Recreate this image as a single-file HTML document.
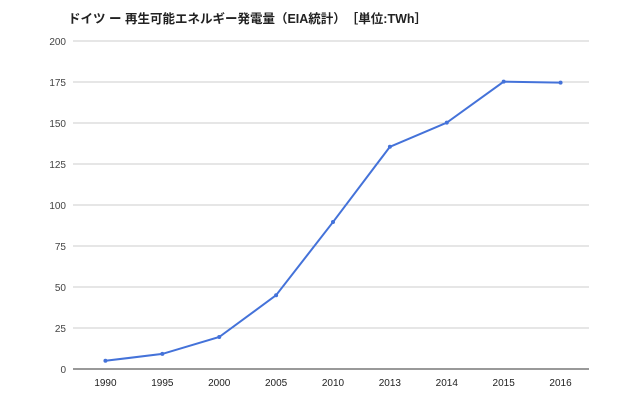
<!DOCTYPE html>
<html><head><meta charset="utf-8"><style>
body{margin:0;background:#fff;}
svg{display:block;font-family:"Liberation Sans","Noto Sans CJK JP",sans-serif;}
</style></head><body>
<svg id="chart" width="640" height="411">
<text x="68" y="23" font-size="12.5" font-weight="bold" fill="#222">ドイツ ー 再生可能エネルギー発電量（EIA統計）　［単位:TWh］</text>
<g id="grid"></g><g id="xl"></g><g id="series"></g>
</svg>
<script>
const categories=["1990","1995","2000","2005","2010","2013","2014","2015","2016"];
const values=[5,9.2,19.5,45,89.6,135.5,150.2,175.2,174.6];
const yTicks=[0,25,50,75,100,125,150,175,200];
const L=77,R=589,T=41,B=369,ymax=200;
const ns="http://www.w3.org/2000/svg";
const bw=(R-L)/categories.length;
const x=i=>L+bw*(i+0.5);
const y=v=>B-(B-T)*v/ymax;
function mk(t,a,p){const e=document.createElementNS(ns,t);for(const k in a)e.setAttribute(k,a[k]);p.appendChild(e);return e;}
const g=document.getElementById('grid');
yTicks.forEach(v=>{
 const ln=mk('line',{x1:73,x2:R,y1:y(v),y2:y(v),stroke:v===0?'#333':'#ccc','stroke-width':1},g);
 
 
 const t=mk('text',{x:66,y:y(v)+4,'font-size':10,'text-anchor':'end',fill:'#444'},g);
 t.textContent=v;
 
 
});
const xl=document.getElementById('xl');
categories.forEach((c,i)=>{
 const t=mk('text',{x:x(i),y:386,'font-size':10,'text-anchor':'middle',fill:'#222'},xl);
 t.textContent=c;
 
 
});
const s=document.getElementById('series');
const p=mk('polyline',{points:values.map((v,i)=>x(i)+','+y(v)).join(' '),fill:'none',stroke:'#4472d9','stroke-width':2},s);


values.forEach((v,i)=>{
 const c=mk('circle',{cx:x(i),cy:y(v),r:2,fill:'#4472d9'},s);
 
 
});
</script>
</body></html>
